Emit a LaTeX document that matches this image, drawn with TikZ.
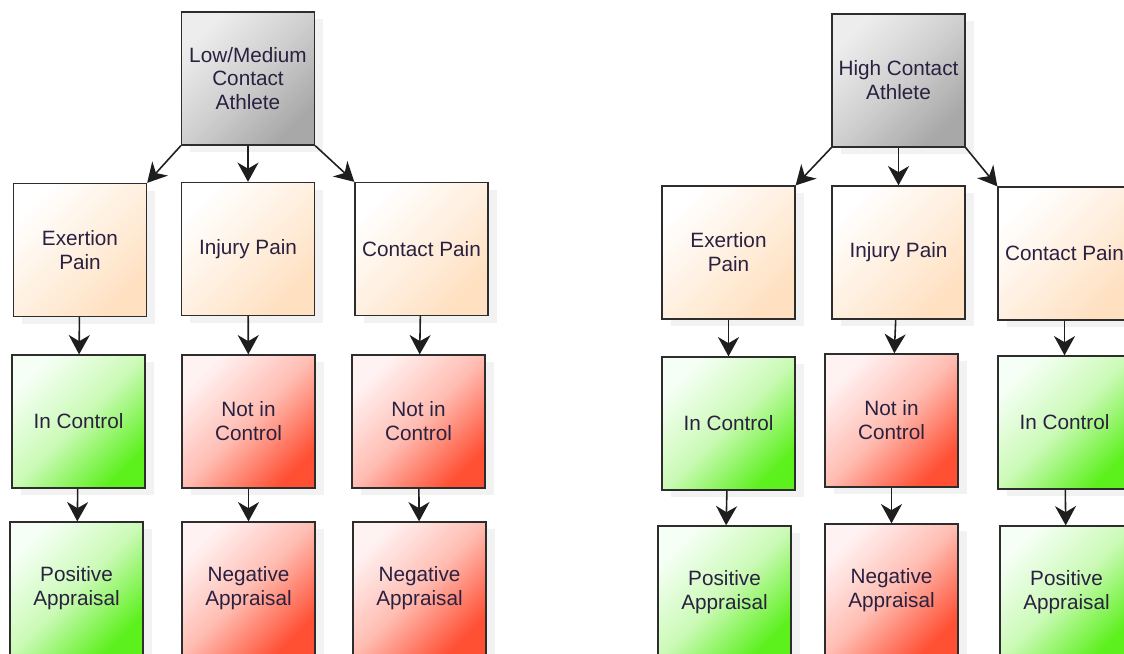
\documentclass[tikz,border=0pt]{standalone}
\usepackage{fontspec}
\setmainfont{Liberation Sans}
\usetikzlibrary{shadows,arrows.meta}

\definecolor{inkblue}{RGB}{42,32,64}
\definecolor{framegray}{RGB}{45,45,45}
\definecolor{linegray}{RGB}{30,30,30}
\definecolor{athgray}{RGB}{168,168,168}
\definecolor{painorange}{RGB}{255,224,192}
\definecolor{okgreen}{RGB}{92,240,28}
\definecolor{badred}{RGB}{255,80,52}
\def\gmid{okgreen!32!white}
\def\rmid{badred!38!white}
\def\amid{athgray!55!white}
\tikzstyle{box}=[draw=framegray,line width=0.75pt,minimum width=2.66cm,
                  minimum height=2.66cm,align=center,text=inkblue,
                  font=\fontsize{11.8}{13.6}\selectfont,
                  drop shadow={opacity=0.10,shadow xshift=5pt,shadow yshift=-4pt}]
\tikzstyle{athlete}=[box,top color=white!93!black,bottom color=athgray,
                  middle color=\amid,shading angle=45]
\tikzstyle{pain}=[box,top color=white,bottom color=painorange,shading angle=45]
\tikzstyle{good}=[box,top color=white!96!green,bottom color=okgreen,
                  middle color=\gmid,shading angle=45]
\tikzstyle{bad}=[box,top color=white!95!red,bottom color=badred,
                  middle color=\rmid,shading angle=45]
\tikzstyle{cedge}=[color=linegray,line width=0.9pt,
                  -{Stealth[length=11pt,width=12pt,inset=3.5pt]}]

\begin{document}
\begin{tikzpicture}[x=0.02cm,y=-0.02cm]
  \useasboundingbox (0,0) rectangle (1124,653);
  \clip (0,0) rectangle (1124,653);

  % Place low/medium contact tree
  \node[athlete] (lm) at (248,78.5) {Low/Medium\\Contact\\Athlete};

  \node[pain] (lmEx) at (80,250) {Exertion\\Pain};
  \node[pain] (lmInj) at (248,249) {Injury Pain};
  \node[pain] (lmCon) at (421.5,249) {Contact Pain};

  \node[good] (lmExC) at (78.5,421.5) {In Control};
  \node[bad] (lmInjC) at (248.5,421.5) {Not in\\Control};
  \node[bad] (lmConC) at (418.5,421.5) {Not in\\Control};

  \node[good] (lmExA) at (76.5,588.5) {Positive\\Appraisal};
  \node[bad] (lmInjA) at (248.5,588.5) {Negative\\Appraisal};
  \node[bad] (lmConA) at (419.5,588.5) {Negative\\Appraisal};

  \path[cedge] (lm.south west) edge (lmEx.north east);
  \path[cedge] (lm.south) edge (lmInj.north);
  \path[cedge] (lm.south east) edge (lmCon.north west);

  \path[cedge] (lmEx) edge (lmExC);
  \path[cedge] (lmInj) edge (lmInjC);
  \path[cedge] (lmCon) edge (lmConC);
  \path[cedge] (lmExC) edge (lmExA);
  \path[cedge] (lmInjC) edge (lmInjA);
  \path[cedge] (lmConC) edge (lmConA);

  % Place high contact tree
  \node[athlete] (hc) at (898.5,80.5) {High Contact\\Athlete};

  \node[pain] (hcEx) at (728.5,252.5) {Exertion\\Pain};
  \node[pain] (hcInj) at (898.5,252.5) {Injury Pain};
  \node[pain] (hcCon) at (1064.5,253.5) {Contact Pain};

  \node[good] (hcExC) at (728.5,423.5) {In Control};
  \node[bad] (hcInjC) at (891.5,420.5) {Not in\\Control};
  \node[good] (hcConC) at (1064.5,422.5) {In Control};

  \node[good] (hcExA) at (724.5,592.5) {Positive\\Appraisal};
  \node[bad] (hcInjA) at (891.5,590.5) {Negative\\Appraisal};
  \node[good] (hcConA) at (1066.5,592.5) {Positive\\Appraisal};

  \path[cedge] (hc.south west) edge (hcEx.north east);
  \path[cedge] (hc.south) edge (hcInj.north);
  \path[cedge] (hc.south east) edge (hcCon.north west);

  \path[cedge] (hcEx) edge (hcExC);
  \path[cedge] (hcInj) edge (hcInjC);
  \path[cedge] (hcCon) edge (hcConC);
  \path[cedge] (hcExC) edge (hcExA);
  \path[cedge] (hcInjC) edge (hcInjA);
  \path[cedge] (hcConC) edge (hcConA);

\end{tikzpicture}
\end{document}
